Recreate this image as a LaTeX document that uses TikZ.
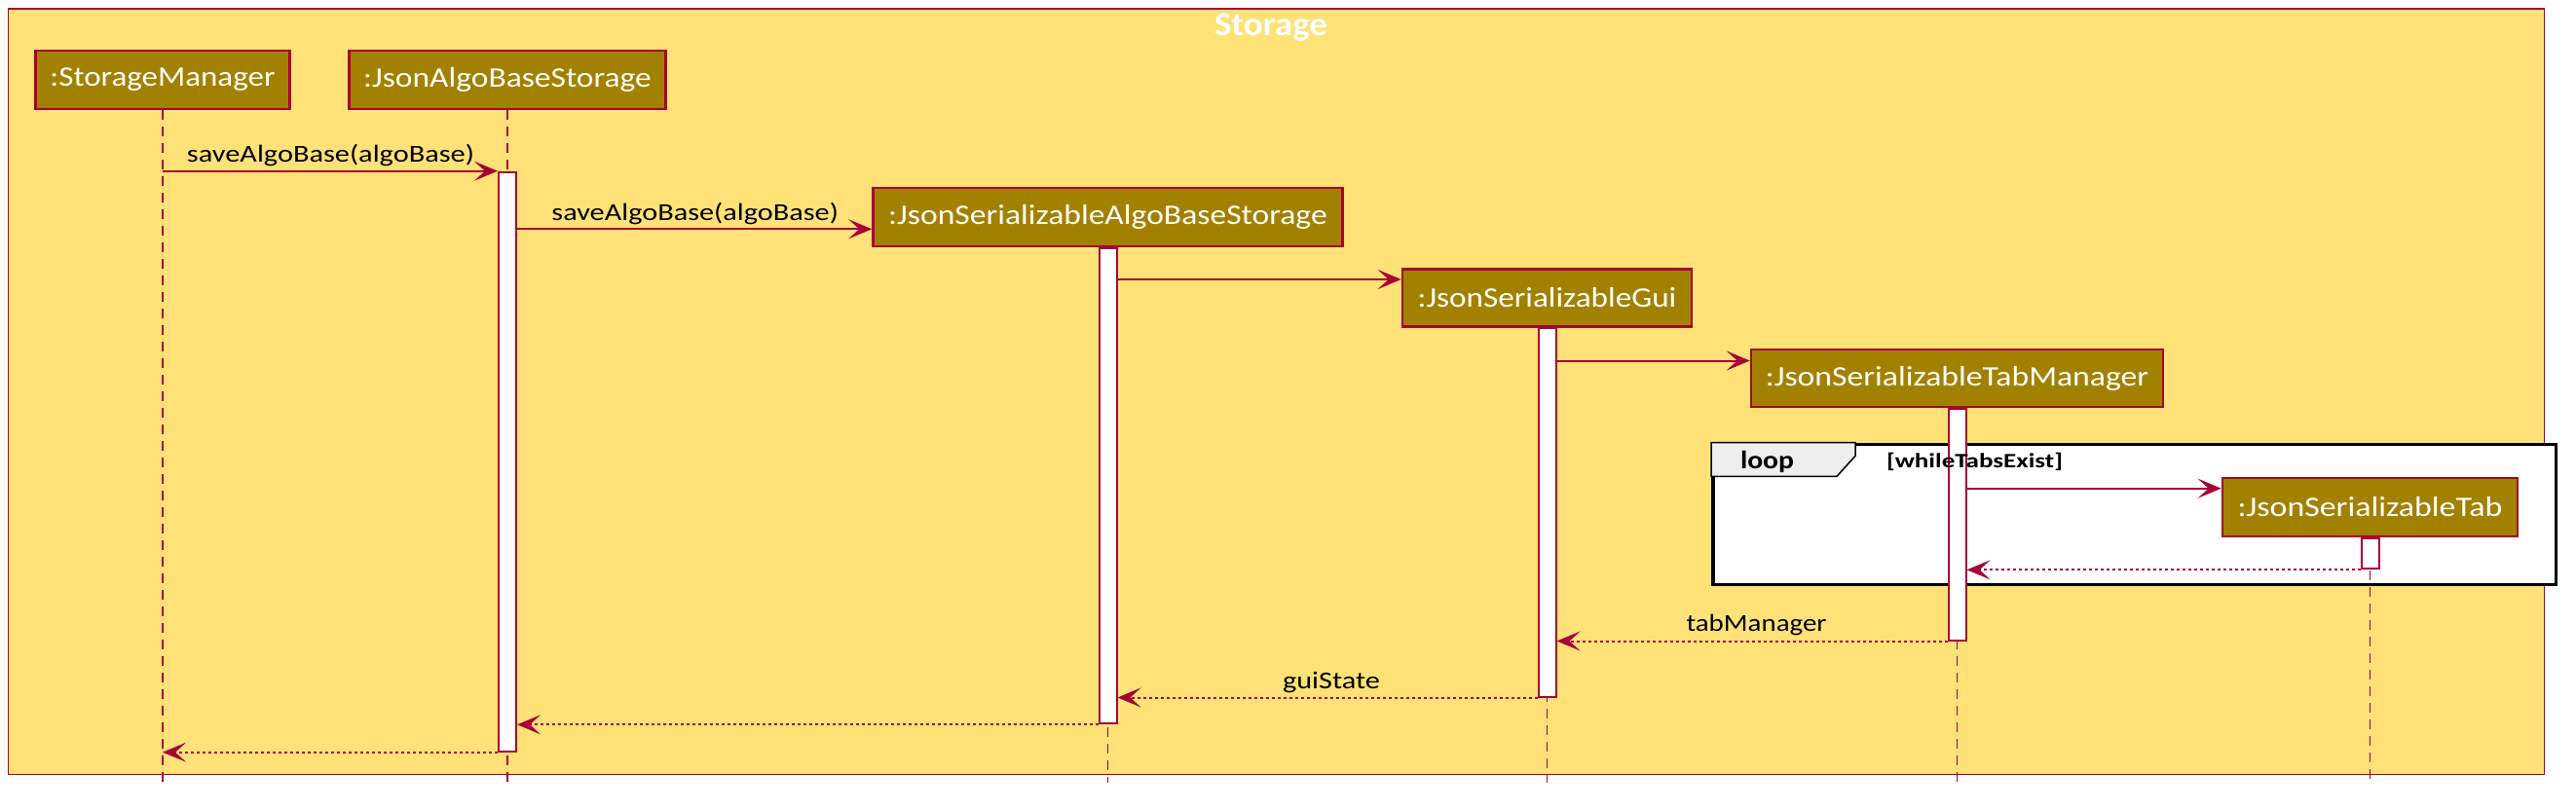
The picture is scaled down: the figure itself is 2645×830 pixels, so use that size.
\documentclass[tikz,border=0pt]{standalone}
\usepackage{fontspec}
\setmainfont{Carlito}
\usetikzlibrary{arrows.meta}
\definecolor{frameY}{HTML}{FFE277}
\definecolor{crim}{HTML}{A80036}
\definecolor{partF}{HTML}{A38100}
\definecolor{tabG}{HTML}{EEEEEE}
\newcommand{\fitw}[2]{\resizebox{#1pt}{\height}{#2}}
\begin{document}
\begin{tikzpicture}[x=1pt,y=-1pt,
  part/.style={draw=crim, fill=partF, line width=2.5pt, text=white, inner sep=0pt, font=\fontsize{29}{34}\selectfont},
  bar/.style={draw=crim, fill=white, line width=2pt, minimum width=18pt, inner sep=0pt},
  life/.style={draw=crim, line width=1.5pt, dash pattern=on 10pt off 7pt},
  msg/.style={draw=crim, line width=2pt, -{Stealth[length=24pt,width=20pt,inset=11pt]}},
  ret/.style={msg, dash pattern=on 3pt off 3pt},
  lbl/.style={anchor=base, inner sep=0pt, font=\fontsize{25}{30}\selectfont},
  outerframe/.style={draw=crim, fill=frameY, line width=1.5pt, inner sep=0pt},
  loopbox/.style={draw=black, fill=white, line width=3.5pt, inner sep=0pt},
]
\useasboundingbox (0,0) rectangle (2645,830);
% outer frame
\node[outerframe, minimum width=2604pt, minimum height=786.5pt] (frame) at (1310.25,402.15) {};
\node[anchor=base, inner sep=0pt, text=white, font=\bfseries\fontsize{34}{40}\selectfont] (title) at (1305,36.7) {\fitw{116}{Storage}};
% loop frame
\node[loopbox, minimum width=865.5pt, minimum height=143.8pt] (loopfr) at (2191.5,528.35) {};
\draw[draw=black, fill=tabG, line width=1.5pt] (1757,454.7) -- (1905,454.7) -- (1905,468.3) -- (1886,489.3) -- (1757,489.3) -- cycle;
% participants
\node[part, minimum width=261pt, minimum height=60pt] (sm) at (167,82) {\fitw{231}{:StorageManager}};
\node[part, minimum width=325pt, minimum height=60pt] (jabs) at (521,82) {\fitw{295.6}{:JsonAlgoBaseStorage}};
\node[part, minimum width=482pt, minimum height=60pt] (jsabs) at (1137.5,223) {\fitw{450.6}{:JsonSerializableAlgoBaseStorage}};
\node[part, minimum width=297pt, minimum height=59pt] (gui) at (1588.5,305.8) {\fitw{265.7}{:JsonSerializableGui}};
\node[part, minimum width=423pt, minimum height=59pt] (tm) at (2009.5,388.7) {\fitw{393.5}{:JsonSerializableTabManager}};
\node[part, minimum width=303pt, minimum height=60pt] (tab) at (2433.5,521) {\fitw{272}{:JsonSerializableTab}};
% lifeline ends
\coordinate (smEnd) at (167,804);
\coordinate (jabsEnd) at (521,804);
\coordinate (jsabsEnd) at (1137.5,804);
\coordinate (guiEnd) at (1588.5,804);
\coordinate (tmEnd) at (2009.5,804);
\coordinate (tabEnd) at (2433.5,804);
\draw[life] (sm.south) -- (smEnd);
\draw[life] (jabs.south) -- (jabsEnd);
\draw[life] (jsabs.south) -- (jsabsEnd);
\draw[life] (gui.south) -- (guiEnd);
\draw[life] (tm.south) -- (tmEnd);
\draw[life] (tab.south) -- (tabEnd);
% activation bars
\node[bar, minimum height=594.7pt] (b2) at (521,474.35) {};
\node[bar, minimum height=488.3pt] (b3) at (1137.5,499.15) {};
\node[bar, minimum height=378.4pt] (b4) at (1588.5,526.5) {};
\node[bar, minimum height=237.2pt] (b5) at (2009.5,538.9) {};
\node[bar, minimum height=31.3pt] (b6) at (2433.5,568.65) {};
% messages
\draw[msg] (sm.south |- 0,175.7) -- (b2.west |- 0,175.7);
\draw[msg] (b2.east |- 0,235.3) -- (jsabs.west |- 0,235.3);
\draw[msg] (b3.east |- 0,287) -- (gui.west |- 0,287);
\draw[msg] (b4.east |- 0,370.5) -- (tm.west |- 0,370.5);
\draw[msg] (b5.east |- 0,501.7) -- (tab.west |- 0,501.7);
\draw[ret] (b6.west |- 0,585.3) -- (b5.east |- 0,585.3);
\draw[ret] (b5.west |- 0,658.5) -- (b4.east |- 0,658.5);
\draw[ret] (b4.west |- 0,716.5) -- (b3.east |- 0,716.5);
\draw[ret] (b3.west |- 0,744.3) -- (b2.east |- 0,744.3);
\draw[ret] (b2.west |- 0,772.7) -- (sm.south |- 0,772.7);
% labels
\node[lbl] (l1) at (339.5,166.7) {\fitw{295}{saveAlgoBase(algoBase)}};
\node[lbl] (l2) at (713.7,226.7) {\fitw{294.5}{saveAlgoBase(algoBase)}};
\node[lbl] (l7) at (1803.5,648.3) {\fitw{144}{tabManager}};
\node[lbl] (l8) at (1367,707.3) {\fitw{100}{guiState}};
\node[anchor=base, inner sep=0pt, font=\bfseries\fontsize{26}{30}\selectfont] (looplbl) at (1814.5,481.7) {\fitw{55}{loop}};
\node[anchor=base, inner sep=0pt, font=\bfseries\fontsize{21}{26}\selectfont] (guard) at (2027.5,480) {\fitw{181}{[whileTabsExist]}};
\end{tikzpicture}
\end{document}
